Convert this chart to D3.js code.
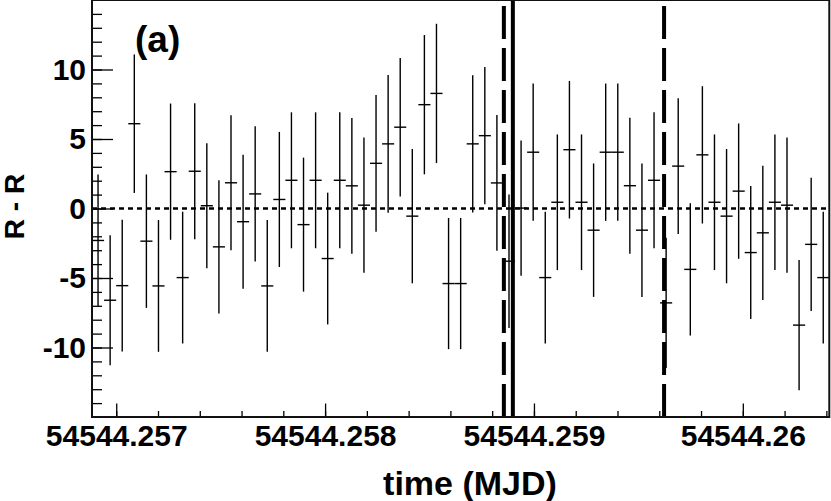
<!DOCTYPE html>
<html>
<head>
<meta charset="utf-8">
<script src="https://cdn.jsdelivr.net/npm/d3@7"></script>
<style>
  body { margin: 0; background: #fff; }
  text { font-family: "Liberation Sans", Arial, sans-serif; font-weight: bold; }
</style>
</head>
<body>
<div id="chart"></div>
<script>
// histogram of R - R in 5 s bins
const binStart = 54544.256884;
const binWidth = 5 / 86400;
const rDiff = [
  -2.3, -6.6, -5.55, 6.1, -2.35, -5.57, 2.65, -4.97, 2.68, 0.2,
  -2.76, 1.85, -0.95, 1.05, -5.57, 0.65, 2.03, -1.16, 2.03, -3.6,
  2.03, 1.63, 0.24, 3.25, 4.65, 5.85, -0.55, 7.47, 8.28, -5.4,
  -5.4, 4.65, 5.24, 1.84, -3.79, 0.03, 4.05, -4.97, 0.45, 4.23,
  0.45, -1.56, 4.05, 4.05, 1.64, -1.56, 2.03, -6.79, 3.05, -4.38,
  3.86, 0.45, -0.55, 1.25, -3.17, -1.75, 0.45, 0.24, -8.39, -2.58,
  -4.97
];
const rErr = [
  4.74, 4.68, 4.74, 4.98, 4.8, 4.74, 4.9, 4.74, 4.9, 4.5,
  4.8, 4.86, 4.82, 4.86, 4.74, 4.86, 4.89, 4.82, 4.89, 4.74,
  4.89, 4.88, 4.86, 4.92, 4.95, 4.98, 4.83, 5.01, 5.01, 4.72,
  4.72, 4.94, 4.94, 4.88, 4.8, 4.87, 4.94, 4.74, 4.88, 4.95,
  4.88, 4.8, 4.94, 4.94, 4.89, 4.8, 4.89, 4.68, 4.89, 4.76,
  4.94, 4.88, 4.83, 4.87, 4.78, 4.83, 4.88, 4.87, 4.68, 4.8,
  4.74
];
const dashedTimes = [54544.258856, 54544.259623];
const solidTimes = [54544.258899];
const xTickValues = [54544.257, 54544.258, 54544.259, 54544.26];
const yTickValues = [-10, -5, 0, 5, 10];

const width = 831, height = 501;
const margin = { top: 0, right: 1.7, bottom: 84, left: 92 };
const plotWidth = width - margin.left - margin.right;
const plotHeight = height - margin.top - margin.bottom;

const bins = rDiff.map((v, i) => ({
  x0: binStart + i * binWidth,
  x1: binStart + (i + 1) * binWidth,
  v: v,
  e: rErr[i]
}));

const xScale = d3.scaleLinear()
  .domain([binStart, binStart + rDiff.length * binWidth])
  .range([0, plotWidth]);

const yScale = d3.scaleLinear()
  .domain([-15, 15])
  .range([plotHeight, 0]);

const svg = d3.select("#chart")
  .append("svg")
  .attr("width", width)
  .attr("height", height)
  .style("background-color", "#fff");

const g = svg.append("g")
  .attr("transform", `translate(${margin.left}, ${margin.top})`);

// minor ticks
const xMinor = d3.range(0, 20).map(k => 54544.2568 + k * 0.0002)
  .filter(t => t > xScale.domain()[0] && t < xScale.domain()[1]);
g.append("g")
  .attr("transform", `translate(0, ${plotHeight})`)
  .call(d3.axisBottom(xScale).tickValues(xMinor).tickSize(-6).tickFormat(""))
  .call(a => a.select(".domain").remove())
  .call(a => a.selectAll("line").attr("stroke-width", 1.3));

g.append("g")
  .call(d3.axisLeft(yScale).tickValues(d3.range(-14, 15)).tickSize(-10).tickFormat(""))
  .call(a => a.select(".domain").remove())
  .call(a => a.selectAll("line").attr("stroke-width", 1.3));

// major ticks + labels
g.append("g")
  .attr("transform", `translate(0, ${plotHeight})`)
  .call(d3.axisBottom(xScale).tickValues(xTickValues).tickSize(-13.5).tickPadding(8)
    .tickFormat(d => d3.format(".3f")(d).replace(/0+$/, "")))
  .call(a => a.select(".domain").remove())
  .call(a => a.selectAll("line").attr("stroke-width", 1.3))
  .call(a => a.selectAll("text").attr("font-size", "30px").attr("fill", "#000"));

g.append("g")
  .call(d3.axisLeft(yScale).tickValues(yTickValues).tickSize(-21).tickPadding(6)
    .tickFormat(d => String(d)))
  .call(a => a.select(".domain").remove())
  .call(a => a.selectAll("line").attr("stroke-width", 1.3))
  .call(a => a.selectAll("text").attr("font-size", "30px").attr("fill", "#000"));

// zero line
g.append("line")
  .attr("x1", 0)
  .attr("x2", plotWidth - 3)
  .attr("y1", yScale(0))
  .attr("y2", yScale(0))
  .attr("stroke", "black")
  .attr("stroke-width", 2.5)
  .attr("stroke-dasharray", "5,4");

// error bars
g.selectAll(".errbar")
  .data(bins)
  .enter()
  .append("line")
  .attr("class", "errbar")
  .attr("x1", d => xScale((d.x0 + d.x1) / 2))
  .attr("x2", d => xScale((d.x0 + d.x1) / 2))
  .attr("y1", d => yScale(d.v - d.e))
  .attr("y2", d => yScale(d.v + d.e))
  .attr("stroke", "black")
  .attr("stroke-width", 1.4);

g.selectAll(".binbar")
  .data(bins)
  .enter()
  .append("line")
  .attr("class", "binbar")
  .attr("x1", d => xScale(d.x0))
  .attr("x2", d => xScale(d.x1))
  .attr("y1", d => yScale(d.v))
  .attr("y2", d => yScale(d.v))
  .attr("stroke", "black")
  .attr("stroke-width", 1.4);

// marker lines
g.selectAll(".dashed-marker")
  .data(dashedTimes)
  .enter()
  .append("line")
  .attr("class", "dashed-marker")
  .attr("x1", d => xScale(d))
  .attr("x2", d => xScale(d))
  .attr("y1", plotHeight)
  .attr("y2", 0)
  .attr("stroke", "black")
  .attr("stroke-width", 4)
  .attr("stroke-dasharray", "33,9");

g.selectAll(".solid-marker")
  .data(solidTimes)
  .enter()
  .append("line")
  .attr("class", "solid-marker")
  .attr("x1", d => xScale(d))
  .attr("x2", d => xScale(d))
  .attr("y1", plotHeight)
  .attr("y2", 0)
  .attr("stroke", "black")
  .attr("stroke-width", 4);

// frame
g.append("rect")
  .attr("x", 0)
  .attr("y", 0)
  .attr("width", plotWidth)
  .attr("height", plotHeight)
  .attr("fill", "none")
  .attr("stroke", "#111")
  .attr("stroke-width", 2);

// titles
svg.append("text")
  .attr("x", 470)
  .attr("y", 495)
  .attr("text-anchor", "middle")
  .attr("font-size", "34px")
  .text("time (MJD)");

svg.append("text")
  .attr("transform", `translate(24, ${margin.top + plotHeight / 2 - 2}) rotate(-90)`)
  .attr("text-anchor", "middle")
  .attr("font-size", "28px")
  .text("R - R");

svg.append("text")
  .attr("x", 135)
  .attr("y", 52)
  .attr("font-size", "37px")
  .text("(a)");
</script>
</body>
</html>
